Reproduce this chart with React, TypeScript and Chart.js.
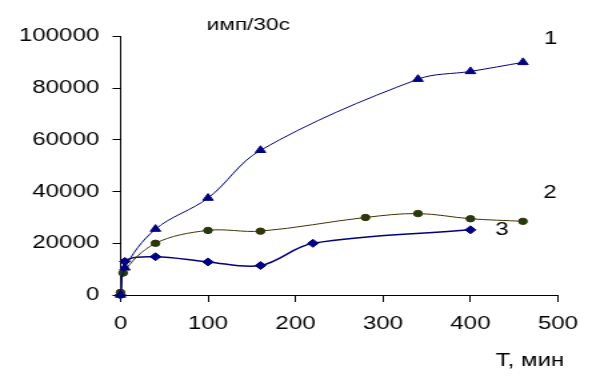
import React, { useEffect, useRef } from "react";
import { Chart, registerables } from "chart.js";

Chart.register(...registerables);

// Series 1 (triangles)
const T1 = [0, 5, 40, 100, 160, 340, 400, 460];
const S1 = [0, 10500, 25500, 37500, 56000, 83500, 86500, 90000];
// Series 2 (circles)
const T2 = [0, 3, 40, 100, 160, 280, 340, 400, 460];
const S2 = [1000, 8500, 20000, 25000, 24700, 30000, 31500, 29500, 28500];
// Series 3 (diamonds)
const T3 = [0, 5, 40, 100, 160, 220, 400];
const S3 = [0, 13000, 14800, 12800, 11400, 20000, 25200];

const X_TICKS = [0, 100, 200, 300, 400, 500];
const Y_TICKS = [0, 20000, 40000, 60000, 80000, 100000];

const LABELS = [
  { text: "имп/30с", x: 146, y: 104500, size: 17 },
  { text: "T, мин", x: 468, y: -25400, size: 18 },
  { text: "1", x: 491.5, y: 98900, size: 18 },
  { text: "2", x: 491, y: 39600, size: 18 },
  { text: "3", x: 436, y: 25100, size: 18 },
];

const FONT = '"Liberation Sans", Arial, sans-serif';

const toXY = (xs: number[], ys: number[]) => xs.map((x, i) => ({ x, y: ys[i] }));

const labelPlugin = {
  id: "textLabels",
  afterDraw(chart: any) {
    const ctx = chart.ctx;
    const sx = chart.scales.x;
    const sy = chart.scales.y;
    ctx.save();
    ctx.fillStyle = "#000";
    ctx.textAlign = "center";
    ctx.textBaseline = "middle";
    for (const l of LABELS) {
      ctx.font = `${l.size}px ${FONT}`;
      ctx.fillText(l.text, sx.getPixelForValue(l.x), sy.getPixelForValue(l.y));
    }
    ctx.restore();
  },
};

export default function App() {
  const ref = useRef<HTMLCanvasElement>(null);
  useEffect(() => {
    document.body.style.margin = "0";
    const canvas = ref.current!;
    const chart = new Chart(canvas, {
      type: "line",
      data: {
        datasets: [
          {
            label: "1",
            data: toXY(T1, S1),
            borderColor: "#000080",
            backgroundColor: "#000080",
            borderWidth: 1,
            pointStyle: "triangle",
            pointRadius: 4.5,
            pointBorderWidth: 1,
            tension: 0.35,
            clip: false,
          },
          {
            label: "2",
            data: toXY(T2, S2),
            borderColor: "#3d3300",
            backgroundColor: "#1f3d0f",
            pointBorderColor: "#3d2b00",
            borderWidth: 1,
            pointStyle: "circle",
            pointRadius: 3.2,
            pointBorderWidth: 1,
            tension: 0.35,
            clip: false,
          },
          {
            label: "3",
            data: toXY(T3, S3),
            borderColor: "#000080",
            backgroundColor: "#000080",
            borderWidth: 1.5,
            pointStyle: "rectRot",
            pointRadius: 4,
            pointBorderWidth: 1,
            tension: 0.35,
            clip: false,
          },
        ],
      },
      options: {
        responsive: false,
        animation: false,
        layout: { padding: { left: 0, right: 34.5, top: 36.5, bottom: 0 } },
        plugins: { legend: { display: false }, tooltip: { enabled: false } },
        scales: {
          x: {
            type: "linear",
            min: 0,
            max: 500,
            afterBuildTicks: (s: any) => {
              s.ticks = X_TICKS.map((v) => ({ value: v }));
            },
            afterFit: (s: any) => {
              s.height = 389 - 295;
            },
            grid: {
              drawOnChartArea: false,
              drawTicks: true,
              tickLength: 7,
              color: "#000",
            },
            border: { display: true, color: "#000", width: 1 },
            ticks: {
              color: "#000",
              font: { family: FONT, size: 18 },
              padding: 11,
              maxRotation: 0,
              callback: (v: any) => String(v),
            },
          },
          y: {
            type: "linear",
            min: 0,
            max: 100000,
            afterBuildTicks: (s: any) => {
              s.ticks = Y_TICKS.map((v) => ({ value: v }));
            },
            afterFit: (s: any) => {
              s.width = 90.4;
            },
            grid: {
              drawOnChartArea: false,
              drawTicks: true,
              tickLength: 6,
              color: "#000",
            },
            border: { display: true, color: "#000", width: 1 },
            ticks: {
              color: "#000",
              font: { family: FONT, size: 18 },
              padding: 10,
              callback: (v: any) => String(v),
            },
          },
        },
      },
      plugins: [labelPlugin],
    });
    return () => chart.destroy();
  }, []);
  return (
    <canvas
      ref={ref}
      width={453}
      height={389}
      style={{ position: "absolute", left: 0, top: 0, width: "604px", height: "389px" }}
    />
  );
}
